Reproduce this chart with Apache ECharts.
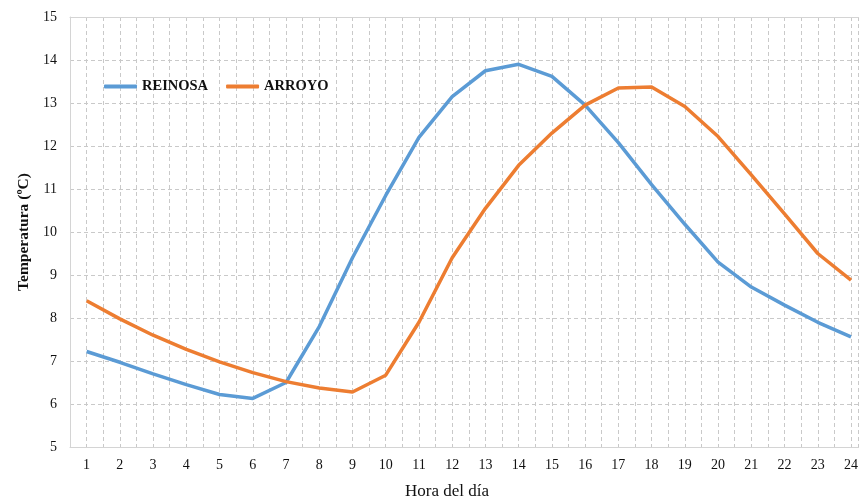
<!DOCTYPE html>
<html>
<head>
<meta charset="utf-8">
<script src="https://cdn.jsdelivr.net/npm/echarts@6/dist/echarts.min.js"></script>
<style>html,body{margin:0;padding:0;background:#fff;overflow:hidden;}#c{width:861px;height:498px;}</style>
</head>
<body>
<div id="c"></div>
<script>
const hours = [1,2,3,4,5,6,7,8,9,10,11,12,13,14,15,16,17,18,19,20,21,22,23,24];
const reinosa = [7.22,6.97,6.7,6.45,6.22,6.13,6.5,7.8,9.4,10.85,12.2,13.15,13.75,13.9,13.62,12.95,12.08,11.1,10.18,9.3,8.72,8.3,7.9,7.56];
const arroyo = [8.4,7.98,7.6,7.27,6.98,6.73,6.52,6.37,6.28,6.67,7.9,9.4,10.55,11.55,12.3,12.95,13.35,13.37,12.92,12.22,11.33,10.42,9.5,8.88];
const yTicks = [5,6,7,8,9,10,11,12,13,14,15];
// x range: half a step before hour 1; the right side of the original plot is cut off by the frame
const xMin = 0.5, xMax = 24.23;

const serif = '"Liberation Serif", "Times New Roman", serif';
const chart = echarts.init(document.getElementById('c'));
const gridLine = {show:true, lineStyle:{color:'#c9c9c9', type:[4,3], width:1}};
chart.setOption({
  animation:false,
  grid:{left:70, right:0, top:17, bottom:51},
  title:{text:'Hora del día', left:400, top:478, textStyle:{fontFamily:serif, fontSize:17, fontWeight:'normal', color:'#111'}},
  legend:{
    left:99, top:74, itemWidth:33, itemHeight:4, itemGap:18, icon:'roundRect',
    textStyle:{fontFamily:serif, fontSize:14.5, fontWeight:'bold', color:'#111'},
    data:['REINOSA','ARROYO']
  },
  xAxis:[{
    type:'value', min:xMin, max:xMax, interval:0.5,
    axisLine:{show:true, lineStyle:{color:'#d4d4d4'}},
    axisTick:{show:false},
    axisLabel:{fontFamily:serif, fontSize:14, color:'#111', margin:11, showMaxLabel:false,
      formatter:v => (Number.isInteger(v) && hours.indexOf(v) >= 0) ? String(v) : ''},
    splitLine:gridLine
  },{
    type:'value', position:'top', min:xMin, max:xMax, interval:0.5,
    axisLine:{show:true, lineStyle:{color:'#d4d4d4'}},
    axisTick:{show:false}, axisLabel:{show:false}, splitLine:{show:false}
  }],
  yAxis:{
    type:'value', min:yTicks[0], max:yTicks[yTicks.length-1], interval:1,
    name:'Temperatura (ºC)', nameLocation:'middle', nameGap:36, nameRotate:90,
    nameTextStyle:{fontFamily:serif, fontSize:15.5, fontWeight:'bold', color:'#111'},
    axisLine:{show:true, lineStyle:{color:'#d4d4d4'}},
    axisTick:{show:false},
    axisLabel:{fontFamily:serif, fontSize:14, color:'#111', margin:13},
    splitLine:gridLine
  },
  series:[
    {name:'REINOSA', type:'line', data:hours.map((h,i)=>[h,reinosa[i]]), showSymbol:false, symbol:'none',
      lineStyle:{color:'#5B9BD5', width:3.5}, itemStyle:{color:'#5B9BD5'}},
    {name:'ARROYO', type:'line', data:hours.map((h,i)=>[h,arroyo[i]]), showSymbol:false, symbol:'none',
      lineStyle:{color:'#ED7D31', width:3.5}, itemStyle:{color:'#ED7D31'}}
  ]
});
</script>
</body>
</html>
